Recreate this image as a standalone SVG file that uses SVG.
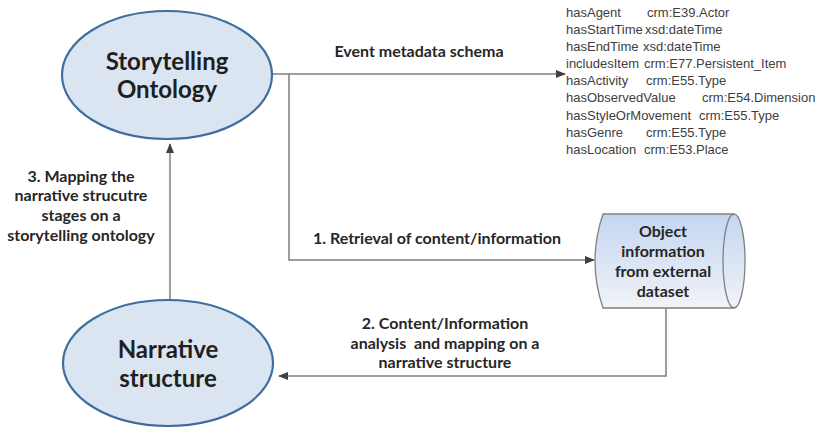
<svg xmlns="http://www.w3.org/2000/svg" width="821" height="430" viewBox="0 0 821 430">
<defs>
<linearGradient id="cyl" x1="0" y1="0" x2="0" y2="1">
<stop offset="0" stop-color="#c3d6f0"/>
<stop offset="1" stop-color="#f1f3f7"/>
</linearGradient>
<marker id="arr" markerWidth="10" markerHeight="8" refX="9" refY="4" orient="auto" markerUnits="userSpaceOnUse">
<path d="M0,0 L10,4 L0,8 Z" fill="#404040"/>
</marker>
<style>
.ell{fill:#dbe5f1;stroke:#3f6e9e;stroke-width:2.2}
.big{font-family:Lato,"Open Sans",sans-serif;font-weight:bold;font-size:24px;fill:#1f1f1f;text-anchor:middle}
.lbl{font-family:Lato,"Open Sans",sans-serif;font-weight:bold;font-size:16px;fill:#262626;text-anchor:middle}
.con{fill:none;stroke:#7f7f7f;stroke-width:1.5}
.meta{font-family:"Liberation Sans",Arial,sans-serif;font-size:13px;fill:#404040}
</style>
</defs>

<g id="connectors">
<path class="con" d="M272,74 H565" marker-end="url(#arr)"/>
<path class="con" d="M289,74 V260 H594" marker-end="url(#arr)"/>
<path class="con" d="M666,308 V376 H279" marker-end="url(#arr)"/>
<path class="con" d="M170,300 V144" marker-end="url(#arr)"/>
</g>

<g id="storytelling-ontology">
<ellipse class="ell" cx="167" cy="75" rx="105" ry="64"/>
<text class="big" x="167" y="70">Storytelling</text>
<text class="big" x="167" y="98">Ontology</text>
</g>

<g id="narrative-structure">
<ellipse class="ell" cx="168" cy="363" rx="105" ry="63"/>
<text class="big" x="168" y="358">Narrative</text>
<text class="big" x="168" y="387">structure</text>
</g>

<g id="object-information">
<path d="M603,214 L734,214 A11,47 0 0 1 734,308 L603,308 Q587,261 603,214 Z" fill="url(#cyl)" stroke="#808080" stroke-width="1.3"/>
<path d="M734,214 A11,47 0 0 0 734,308" fill="none" stroke="#808080" stroke-width="1.3"/>
<text class="lbl" x="663" y="237">Object</text>
<text class="lbl" x="663" y="257">information</text>
<text class="lbl" x="663" y="277">from external</text>
<text class="lbl" x="663" y="297">dataset</text>
</g>

<g id="metadata-schema">
<text class="meta" x="566" y="17">hasAgent</text><text class="meta" x="647" y="17">crm:E39.Actor</text>
<text class="meta" x="566" y="34">hasStartTime</text><text class="meta" x="645" y="34">xsd:dateTime</text>
<text class="meta" x="566" y="51">hasEndTime</text><text class="meta" x="643" y="51">xsd:dateTime</text>
<text class="meta" x="566" y="68">includesItem</text><text class="meta" x="644" y="68">crm:E77.Persistent_Item</text>
<text class="meta" x="566" y="85">hasActivity</text><text class="meta" x="646" y="85">crm:E55.Type</text>
<text class="meta" x="566" y="102">hasObservedValue</text><text class="meta" x="702" y="102">crm:E54.Dimension</text>
<text class="meta" x="566" y="119.5">hasStyleOrMovement</text><text class="meta" x="699" y="119.5">crm:E55.Type</text>
<text class="meta" x="566" y="136.5">hasGenre</text><text class="meta" x="646" y="136.5">crm:E55.Type</text>
<text class="meta" x="566" y="153.5">hasLocation</text><text class="meta" x="644" y="153.5">crm:E53.Place</text>
</g>

<g id="labels">
<text class="lbl" x="419" y="57">Event metadata schema</text>
<text class="lbl" x="437" y="244">1. Retrieval of content/information</text>
<text class="lbl" x="445" y="329">2. Content/Information</text>
<text class="lbl" x="445" y="349">analysis&#160; and mapping on a</text>
<text class="lbl" x="445" y="368">narrative structure</text>
<text class="lbl" x="81" y="182">3. Mapping the</text>
<text class="lbl" x="81" y="201">narrative strucutre</text>
<text class="lbl" x="81" y="221">stages on a</text>
<text class="lbl" x="81" y="241">storytelling ontology</text>
</g>
</svg>
